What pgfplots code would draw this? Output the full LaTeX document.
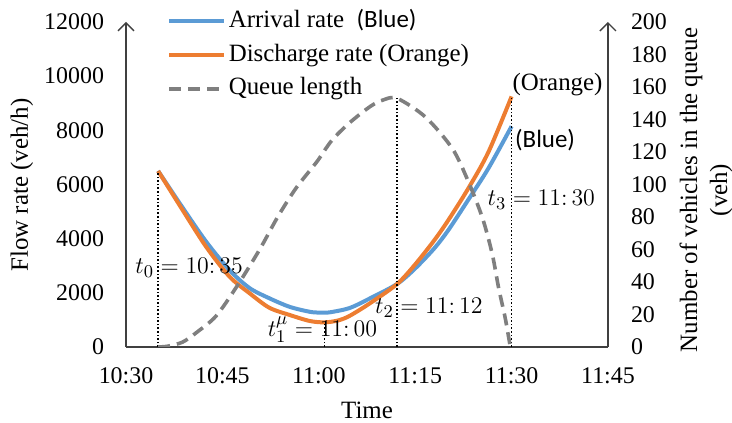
\documentclass[border=0pt]{standalone}
\usepackage{fontspec}
\setmainfont{Liberation Serif}
\newfontfamily\calibri{Carlito}
\usepackage{pgfplots}
\pgfplotsset{compat=1.18}
\usetikzlibrary{arrows.meta}
\definecolor{cblue}{HTML}{5B9BD5}
\definecolor{corange}{HTML}{ED7D31}
\definecolor{cgray}{HTML}{7F7F7F}
\definecolor{caxis}{HTML}{404040}
\newcommand{\tickfont}{\rmfamily\fontsize{12}{14}\selectfont}
\newcommand{\labfont}{\rmfamily\fontsize{12.5}{15}\selectfont}
\newcommand{\mfont}{\fontsize{13}{15}\selectfont}
\begin{document}
\begin{tikzpicture}
\useasboundingbox (0,0) rectangle (366bp,211.5bp);
\begin{axis}[
  at={(63bp,38bp)}, anchor=south west,
  width=241bp, height=162.5bp, scale only axis,
  xmin=0, xmax=75, ymin=0, ymax=12000,
  axis x line=bottom, axis y line=left,
  x axis line style={-, draw=caxis, line width=0.7bp},
  y axis line style={-{Straight Barb[length=4bp,width=8bp]}, draw=caxis, line width=0.7bp},
  major tick length=0, tick style={draw=none},
  scaled y ticks=false,
  xtick={0,15,30,45,60,75},
  xticklabels={10:30,10:45,11:00,11:15,11:30,11:45},
  xticklabel style={font=\tickfont, yshift=-7bp},
  ytick={0,2000,...,12000},
  yticklabels={0,2000,4000,6000,8000,10000,12000},
  yticklabel style={font=\tickfont, xshift=-7.5bp},
]
% Arrival rate (blue)
\addplot[cblue, line width=2bp, smooth] coordinates {
 (5,6500) (8.8,5150) (12.5,3880) (16.1,2840) (19.2,2180) (22.3,1800)
 (25.5,1480) (28.6,1300) (30.2,1270) (31.7,1280) (34.8,1440) (38,1800)
 (42.2,2330) (45,2900) (48,3650) (50.2,4330) (53.3,5450) (56.4,6600) (60,8150)
};
% Discharge rate (orange)
\addplot[corange, line width=2bp, smooth] coordinates {
 (5,6500) (8.8,5060) (12.5,3690) (16.1,2600) (19.2,1990) (22.3,1450)
 (25.5,1180) (28.6,960) (30.9,910) (33,980) (34.8,1150) (38,1620)
 (42.2,2330) (45,3050) (48,3950) (50.2,4700) (53.3,5870) (56.4,7200) (60,9250)
};
% reference lines
\addplot[densely dotted, black, line width=0.8bp] coordinates {(5,0) (5,6500)};
\addplot[densely dotted, black, line width=0.8bp] coordinates {(30.9,0) (30.9,910)};
\addplot[densely dotted, black, line width=0.8bp] coordinates {(42.2,0) (42.2,9180)};
\addplot[densely dotted, black, line width=0.8bp] coordinates {(60,0) (60,9250)};
% annotations
\node[anchor=west, inner sep=0pt, font=\mfont] at (axis cs:1.4,2917) {$t_0 = 10\mathpunct{:}35$};
\node[anchor=west, inner sep=0pt, font=\mfont] at (axis cs:22.0,628) {$t_1^{\mu} = 11\mathpunct{:}00$};
\node[anchor=west, inner sep=0pt, font=\mfont] at (axis cs:38.7,1440) {$t_2 = 11\mathpunct{:}12$};
\node[anchor=west, inner sep=0pt, font=\mfont] at (axis cs:56.2,5427) {$t_3 = 11\mathpunct{:}30$};
\node[anchor=west, inner sep=0pt, font=\labfont] at (axis cs:60.1,9673) {(Orange)};
\node[anchor=west, inner sep=0pt, font=\labfont\calibri] at (axis cs:60.5,7642) {(Blue)};
\end{axis}
\begin{axis}[
  at={(63bp,38bp)}, anchor=south west,
  width=241bp, height=162.5bp, scale only axis,
  xmin=0, xmax=75, ymin=0, ymax=200,
  axis x line=none, axis y line=right,
  y axis line style={-{Straight Barb[length=4bp,width=8bp]}, draw=caxis, line width=0.7bp},
  major tick length=0, tick style={draw=none},
  ytick={0,20,...,200},
  yticklabels={0,20,40,60,80,100,120,140,160,180,200},
  yticklabel style={font=\tickfont, xshift=8bp},
  legend image code/.code={\draw[#1] (0bp,0bp) -- (27.5bp,0bp);},
  legend cell align=left,
  legend style={draw=none, fill=none, inner sep=0pt, font=\labfont,
    at={(axis description cs:0.085,0.898)}, anchor=west,
    row sep=2.5bp,
    nodes={inner sep=1.2bp, text height=9bp, text depth=3bp}},
]
\addlegendimage{cblue, line width=2bp}
\addlegendentry{Arrival rate\ \ {\calibri (Blue)}}
\addlegendimage{corange, line width=2bp}
\addlegendentry{Discharge rate (Orange)}
\addplot[cgray, line width=1.8bp, dash pattern=on 6bp off 3.5bp, smooth] coordinates {
 (5,0) (6.5,0.5) (8.8,3) (11,9) (14,19) (17.2,37) (20.8,60) (23.6,80)
 (26.5,98) (29.7,114) (32,127) (34.8,138) (38,148) (40,152) (42.2,153)
 (46.6,141.5) (50.8,122) (53.3,101.5) (55.5,79) (57,57) (58,36) (59,18) (59.8,0)
};
\addlegendentry{Queue length}
\end{axis}
\node[rotate=90, font=\labfont] at (11bp,119bp) {Flow rate (veh/h)};
\node[rotate=90, font=\labfont, align=center] at (353bp,116.5bp) {Number of vehicles in the queue\\(veh)};
\node[font=\labfont] at (183.5bp,6.5bp) {Time};
\end{tikzpicture}
\end{document}
